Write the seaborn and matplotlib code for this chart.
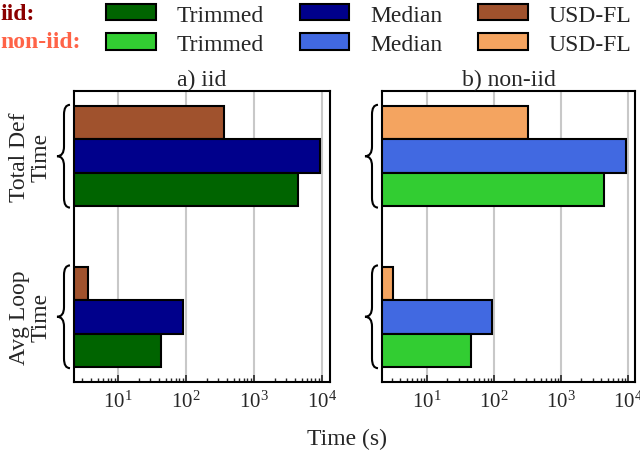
import pandas as pd
import numpy as np
import matplotlib
matplotlib.use('Agg')
import matplotlib.pyplot as plt
import matplotlib.patches as mpatches
from matplotlib.path import Path
from matplotlib import transforms
import seaborn as sns

# valori (secondi)
metriche = ["Total Def Time", "Avg Loop Time"]
metodi = ["USD-FL", "Median", "Trimmed"]
iid_usd = [363, 3.6]
iid_median = [9400, 90]
iid_trimmed = [4460, 43]
noniid_usd = [325, 3.1]
noniid_median = [9300, 93]
noniid_trimmed = [4360, 45]

col_iid = {"Trimmed": "#006400", "Median": "#00008B", "USD-FL": "#A0522D"}
col_noniid = {"Trimmed": "#32CD32", "Median": "#4169E1", "USD-FL": "#F4A460"}

def crea_df(usd, median, trimmed):
    righe = []
    for i, m in enumerate(metriche):
        righe.append((m, "USD-FL", usd[i]))
        righe.append((m, "Median", median[i]))
        righe.append((m, "Trimmed", trimmed[i]))
    return pd.DataFrame(righe, columns=["metrica", "metodo", "tempo"])

df_iid = crea_df(iid_usd, iid_median, iid_trimmed)
df_noniid = crea_df(noniid_usd, noniid_median, noniid_trimmed)

sns.set_style("white")
plt.rcParams['font.family'] = ['Liberation Serif', 'DejaVu Serif']
plt.rcParams['mathtext.fontset'] = 'stix'

fig = plt.figure(figsize=(6.4, 4.52), dpi=100)
W, H = 640, 452
ax1 = fig.add_axes([74 / W, 1 - 383 / H, 256 / W, 291 / H])
ax2 = fig.add_axes([382 / W, 1 - 383 / H, 253 / W, 291 / H])


def graffa(ax, ycentro, larg_px):
    # disegna una parentesi graffa a sinistra dell'asse
    trans = transforms.blended_transform_factory(ax.transAxes, ax.transData)
    x_end = -4 / larg_px
    x_v = -10 / larg_px
    x_tip = -17 / larg_px
    ytop = ycentro - 0.32
    ybot = ycentro + 0.32
    r = 0.06
    verts = [(x_end, ytop), (x_v, ytop), (x_v, ytop + r),
             (x_v, ycentro - r),
             (x_v, ycentro), (x_tip, ycentro),
             (x_v, ycentro), (x_v, ycentro + r),
             (x_v, ybot - r),
             (x_v, ybot), (x_end, ybot)]
    codes = [Path.MOVETO, Path.CURVE3, Path.CURVE3,
             Path.LINETO,
             Path.CURVE3, Path.CURVE3,
             Path.CURVE3, Path.CURVE3,
             Path.LINETO,
             Path.CURVE3, Path.CURVE3]
    p = mpatches.PathPatch(Path(verts, codes), transform=trans, fill=False,
                           lw=1.5, color='black', clip_on=False)
    ax.add_patch(p)


for ax, df, colori, titolo, larg, lim in [(ax1, df_iid, col_iid, "a) iid", 256, (2.25, 13100)),
                                           (ax2, df_noniid, col_noniid, "b) non-iid", 253, (2.13, 12700))]:
    sns.barplot(data=df, y="metrica", x="tempo", hue="metodo", hue_order=metodi,
                order=metriche, palette=colori, saturation=1, orient='h', width=0.625,
                edgecolor='black', linewidth=1.5, legend=False, ax=ax)
    ax.set_xscale('log')
    ax.set_xlim(*lim)
    ax.set_ylim(1.406, -0.406)
    ax.set_axisbelow(True)
    ax.grid(axis='x', which='major', color='#c8c8c8', lw=1.5)
    ax.grid(axis='y', visible=False)
    ax.set_xticks([10, 100, 1000, 10000])
    ax.tick_params(axis='x', which='major', direction='in', length=5, width=1.2,
                   labelsize=15, pad=6, bottom=True)
    ax.tick_params(axis='x', which='minor', direction='in', length=3, width=1.0,
                   bottom=True)
    ax.tick_params(axis='y', left=False, labelleft=False)
    ax.set_xlabel("")
    ax.set_ylabel("")
    ax.set_title(titolo, fontsize=17, pad=4)
    for s in ax.spines.values():
        s.set_color('black')
        s.set_linewidth(1.5)
    for yc in [0, 1]:
        graffa(ax, yc, larg)

for yc, testo in zip([0, 1], ["Total Def\nTime", "Avg Loop\nTime"]):
    ax1.text(-44 / 256, yc, testo, transform=transforms.blended_transform_factory(ax1.transAxes, ax1.transData),
             rotation=90, ha='center', va='center', fontsize=17, linespacing=1.05)

fig.text(347 / W, 1 - 439 / H, "Time (s)", ha='center', va='center', fontsize=17)

# legenda
maniglie = []
etichette = []
for m in ["Trimmed", "Median", "USD-FL"]:
    maniglie.append(mpatches.Patch(facecolor=col_iid[m], edgecolor='black', lw=1.5))
    etichette.append(m)
    maniglie.append(mpatches.Patch(facecolor=col_noniid[m], edgecolor='black', lw=1.5))
    etichette.append(m)
fig.legend(maniglie, etichette, ncol=3, loc='upper left', bbox_to_anchor=(92 / W, 1 + 9 / H),
           frameon=False, fontsize=17, handlelength=2.1, handleheight=0.68,
           handletextpad=0.9, columnspacing=1.5, labelspacing=0.33, borderpad=0.1)
fig.text(0, 1 - 15 / H, "iid:", color='#8B0000', fontweight='bold', fontsize=17,
         ha='left', va='center')
fig.text(0, 1 - 42 / H, "non-iid:", color='tomato', fontweight='bold', fontsize=17,
         ha='left', va='center')

fig.savefig("out.png", dpi=100)
